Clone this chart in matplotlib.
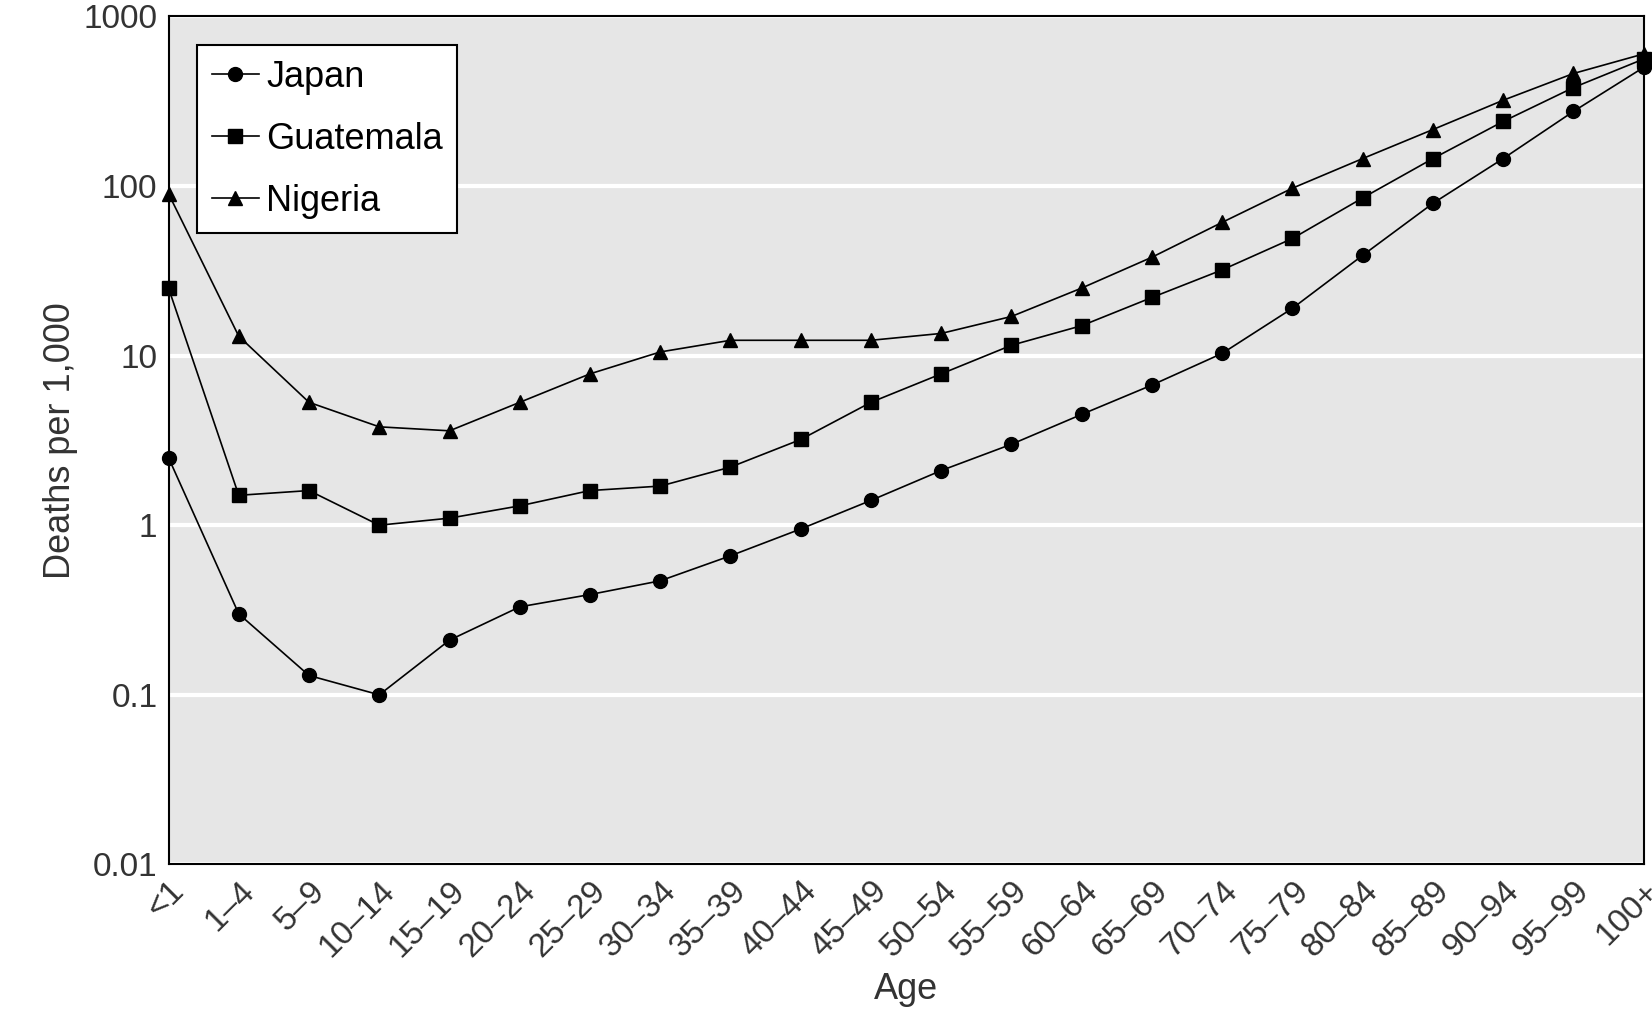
import matplotlib.pyplot as plt
from matplotlib.ticker import FixedLocator, FixedFormatter, NullLocator

plt.rcParams['font.family'] = ['Liberation Sans', 'DejaVu Sans']

ages = ['<1', '1–4', '5–9', '10–14', '15–19', '20–24', '25–29', '30–34', '35–39',
        '40–44', '45–49', '50–54', '55–59', '60–64', '65–69', '70–74', '75–79',
        '80–84', '85–89', '90–94', '95–99', '100+']
japan = [2.5, 0.3, 0.13, 0.1, 0.21, 0.33, 0.39, 0.47, 0.66, 0.95, 1.4, 2.1, 3.0,
         4.5, 6.7, 10.3, 19, 39, 79, 145, 275, 500]
guatemala = [25, 1.5, 1.6, 1.0, 1.1, 1.3, 1.6, 1.7, 2.2, 3.2, 5.3, 7.8, 11.5, 15,
             22, 32, 49, 85, 145, 240, 380, 560]
nigeria = [90, 13, 5.3, 3.8, 3.6, 5.3, 7.8, 10.5, 12.3, 12.3, 12.3, 13.5, 17, 25,
           38, 61, 97, 145, 215, 320, 460, 600]
yticks = [0.01, 0.1, 1, 10, 100, 1000]
ylabels = ['0.01', '0.1', '1', '10', '100', '1000']

fig = plt.figure(figsize=(16.52, 10.17), dpi=100)
ax = fig.add_axes([0.102, 0.15, 0.893, 0.834])
ax.set_facecolor('#e6e6e6')
x = range(len(ages))
ax.plot(x, japan, '-o', color='black', lw=1.2, ms=10, label='Japan', clip_on=False, zorder=3)
ax.plot(x, guatemala, '-s', color='black', lw=1.2, ms=10, label='Guatemala', clip_on=False, zorder=3)
ax.plot(x, nigeria, '-^', color='black', lw=1.2, ms=10, label='Nigeria', clip_on=False, zorder=3)
ax.set_yscale('log')
ax.set_ylim(0.01, 1000)
ax.set_xlim(0, len(ages) - 1)
ax.yaxis.set_major_locator(FixedLocator(yticks))
ax.yaxis.set_major_formatter(FixedFormatter(ylabels))
ax.yaxis.set_minor_locator(NullLocator())
ax.grid(axis='y', color='white', lw=3)
ax.set_axisbelow(True)
ax.set_xticks(list(x))
ax.set_xticklabels(ages, rotation=45, ha='right', rotation_mode='anchor')
ax.tick_params(length=0, labelsize=24, colors='#333333', pad=8)
for s in ax.spines.values():
    s.set_linewidth(1.5)
ax.set_xlabel('Age', fontsize=26, color='#333333', labelpad=6)
ax.set_ylabel('Deaths per 1,000', fontsize=26, color='#333333')
leg = ax.legend(loc='upper left', fontsize=26, fancybox=False, edgecolor='black',
                framealpha=1, handlelength=1.3, handletextpad=0.2,
                borderaxespad=0.8, labelspacing=0.75)
leg.get_frame().set_linewidth(1.5)
fig.savefig('out.png')
